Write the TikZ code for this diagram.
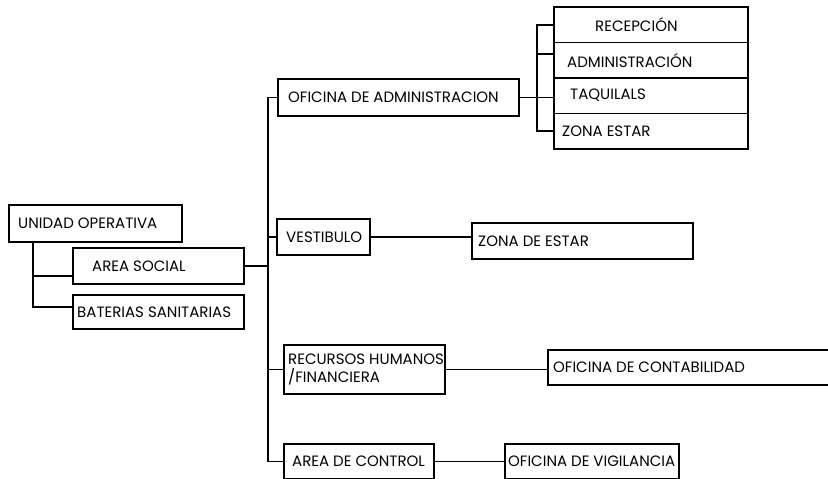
\documentclass[tikz,border=0pt]{standalone}
\usepackage{fontspec}
\setmainfont{Poppins}
\usetikzlibrary{positioning}

\begin{document}
\begin{tikzpicture}[x=1pt, y=-1pt,
    caja/.style={draw, line width=1.8pt, anchor=north west, inner sep=0pt},
    texto/.style={inner sep=0pt, align=left, font=\fontsize{15}{18}\selectfont},
    linea/.style={line width=1.8pt}]
    \useasboundingbox (0,0) rectangle (828,479);

    % Unidad operativa
    \node[caja, minimum width=173pt, minimum height=37pt] (unidad) at (8,204) {};
    \node[texto, right=10pt of unidad.west] (unidad-t) {UNIDAD OPERATIVA};
    \node[caja, minimum width=171pt, minimum height=36pt] (social) at (72,247) {};
    \node[texto, right=20pt of social.west] (social-t) {AREA SOCIAL};
    \node[caja, minimum width=171pt, minimum height=34pt] (bat) at (72,294) {};
    \node[texto, right=5pt of bat.west] (bat-t) {BATERIAS SANITARIAS};

    % Ramas del centro
    \node[caja, minimum width=241pt, minimum height=37pt] (ofadm) at (277,78) {};
    \node[texto, right=11pt of ofadm.west] (ofadm-t) {OFICINA DE ADMINISTRACION};
    \node[caja, minimum width=93pt, minimum height=36pt] (vest) at (276,218) {};
    \node[texto, right=10pt of vest.west] (vest-t) {VESTIBULO};
    \node[caja, minimum width=161pt, minimum height=49pt] (rrhh) at (283,344) {};
    \node[texto, right=5pt of rrhh.west] (rrhh-t) {RECURSOS HUMANOS\\/FINANCIERA};
    \node[caja, minimum width=150pt, minimum height=35pt] (ctrl) at (283,443) {};
    \node[texto, right=9pt of ctrl.west] (ctrl-t) {AREA DE CONTROL};

    % Columna de oficinas
    \node[caja, minimum width=194pt, minimum height=35.5pt] (rec) at (553,6) {};
    \node[texto, right=42pt of rec.west] (rec-t) {RECEPCIÓN};
    \node[caja, minimum width=194pt, minimum height=35.5pt] (adm) at (553,41.5) {};
    \node[texto, right=14pt of adm.west] (adm-t) {ADMINISTRACIÓN};
    \node[caja, minimum width=194pt, minimum height=35.5pt] (taq) at (553,77) {};
    \node[texto, right=17pt of taq.west] (taq-t) {TAQUILALS};
    \node[caja, minimum width=194pt, minimum height=35.5pt] (zest) at (553,112.5) {};
    \node[texto, right=9pt of zest.west] (zest-t) {ZONA ESTAR};

    % Destinos de la derecha
    \node[caja, minimum width=221pt, minimum height=36pt] (zde) at (471,222) {};
    \node[texto, right=7pt of zde.west] (zde-t) {ZONA DE ESTAR};
    \node[caja, minimum width=300pt, minimum height=35pt] (conta) at (547,349) {};
    \node[texto, right=6pt of conta.west] (conta-t) {OFICINA DE CONTABILIDAD};
    \node[caja, minimum width=174pt, minimum height=35pt] (vig) at (504,443) {};
    \node[texto, right=4pt of vig.west] (vig-t) {OFICINA DE VIGILANCIA};

    % Conectores de la izquierda
    \coordinate (eje) at (33,0);
    \coordinate (s1) at ([yshift=9pt]social.south west);
    \coordinate (b1) at ([yshift=5pt]bat.west);
    \draw[linea] (unidad.south -| eje) |- (b1);
    \draw[linea] (s1) -- (s1 -| eje);

    % Tronco principal
    \coordinate (tronco) at (268,0);
    \draw[linea] (ofadm.west) -- (ofadm.west -| tronco) -- (ctrl.west -| tronco) -- (ctrl.west);
    \draw[linea] (vest.west) -- (vest.west -| tronco);
    \draw[linea] (rrhh.west) -- (rrhh.west -| tronco);
    \draw[linea] (social.east) -- (social.east -| tronco);

    % Columna de oficinas
    \coordinate (pila) at (537,0);
    \coordinate (a1) at ([yshift=6pt]adm.west);
    \draw[linea] (ofadm.east) -- (ofadm.east -| taq.west);
    \draw[linea] (rec.west) -- (rec.west -| pila) -- (zest.west -| pila) -- (zest.west);
    \draw[linea] (a1) -- (a1 -| pila);

    % Conectores de la derecha
    \draw[linea] (vest.east) -- (vest.east -| zde.west);
    \draw[linea] (rrhh.east) -- (rrhh.east -| conta.west);
    \draw[linea] (ctrl.east) -- (vig.west);
\end{tikzpicture}
\end{document}
